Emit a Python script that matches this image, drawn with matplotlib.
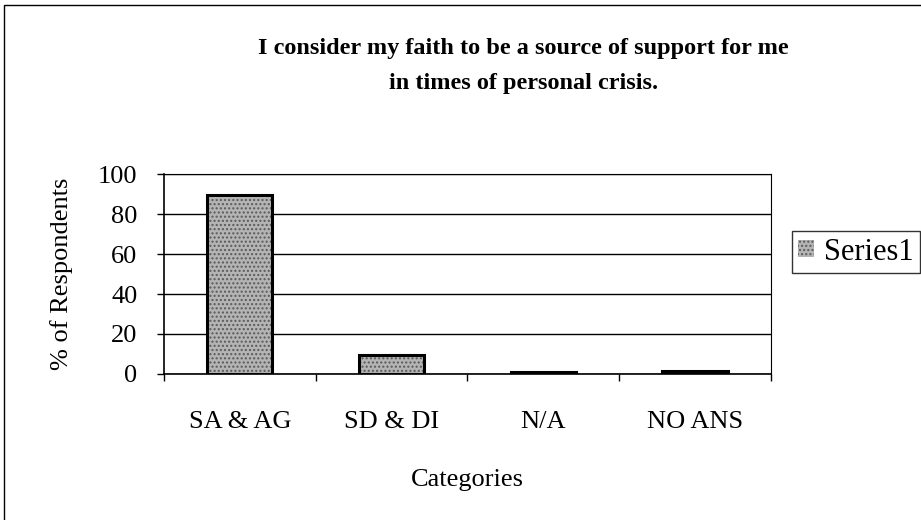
import numpy as np
import matplotlib
matplotlib.use("Agg")
import matplotlib.pyplot as plt
from matplotlib.patches import Rectangle

# Datos
categorias = ["SA & AG", "SD & DI", "N/A", "NO ANS"]
porcentajes = [89.5, 9.5, 0.8, 1.2]
yticks = [0, 20, 40, 60, 80, 100]

plt.rcParams["font.family"] = ["Liberation Serif", "DejaVu Serif"]

fig = plt.figure(figsize=(9.21, 5.2), dpi=100)
ax = fig.add_axes([0.178, 0.281, 0.659, 0.384])

x = np.arange(len(categorias))
# relleno punteado gris
barras = ax.bar(x, porcentajes, width=0.43, color="#b4b4b4", edgecolor="#5a5a5a",
                hatch="....", linewidth=0, zorder=3)
# borde negro grueso
ax.bar(x, porcentajes, width=0.43, color="none", edgecolor="black",
       linewidth=2.2, zorder=4)

ax.set_xlim(-0.5, len(categorias) - 0.5)
ax.set_ylim(0, 100)
ax.set_yticks(yticks)
ax.yaxis.grid(True, color="black", linewidth=1.0, zorder=0)
ax.set_axisbelow(True)

ax.set_xticks(x)
ax.set_xticklabels(categorias, fontsize=19)
ax.set_xticks(np.arange(len(categorias) + 1) - 0.5, minor=True)
ax.tick_params(axis="x", which="major", length=0, pad=27)
ax.tick_params(axis="x", which="minor", length=5, width=1, direction="out")
ax.tick_params(axis="y", labelsize=19, length=5, width=1, direction="out", pad=14)

for s in ["left", "bottom"]:
    ax.spines[s].set_linewidth(1.2)
for s in ["top", "right"]:
    ax.spines[s].set_linewidth(0.8)

ax.set_xlabel("Categories", fontsize=19, labelpad=26)
ax.set_ylabel("% of Respondents", fontsize=19, labelpad=18)

fig.text(0.568, 0.873, "I consider my faith to be a source of support for me\nin times of personal crisis.",
         ha="center", va="center", fontsize=17.5, fontweight="bold", linespacing=1.9)

# leyenda
leg = ax.legend(handles=[barras[0]], labels=["Series1"], loc="center left",
                bbox_to_anchor=(1.035, 0.61), fontsize=22, frameon=True,
                fancybox=False, edgecolor="black", handlelength=0.5,
                handleheight=0.5, handletextpad=0.35, borderpad=0.2,
                borderaxespad=0)
leg.get_frame().set_linewidth(1.0)

# marco exterior
fig.patches.append(Rectangle((0.004, -0.1), 1.2, 1.09, transform=fig.transFigure,
                             fill=False, edgecolor="black", linewidth=1.0))

fig.savefig("out.png", dpi=100)
